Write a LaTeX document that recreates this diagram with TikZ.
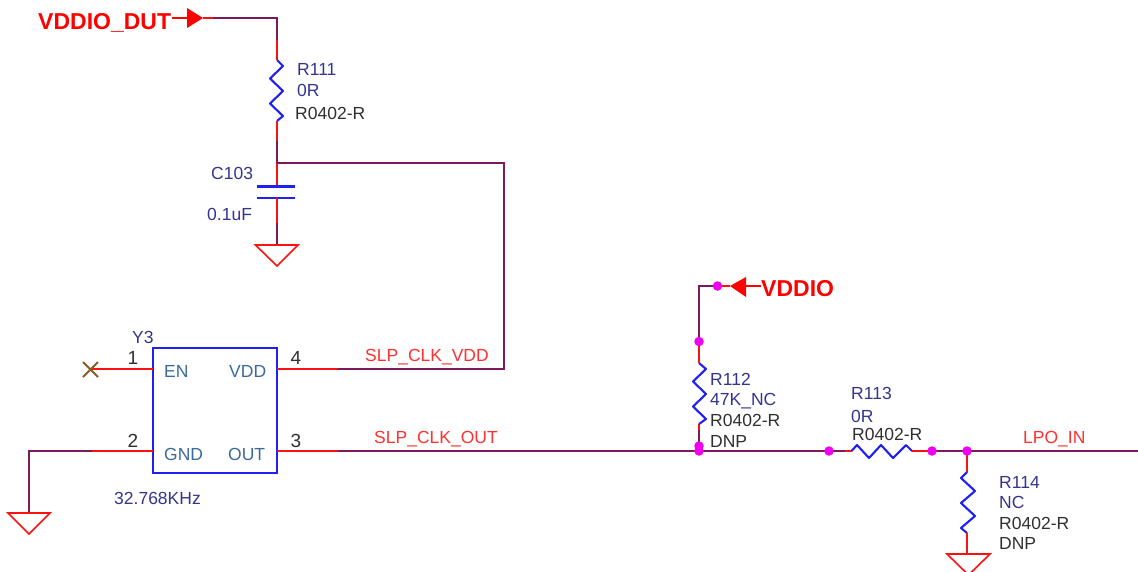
\documentclass[tikz,border=0pt]{standalone}
\usepackage{fontspec}
\setmainfont{Liberation Sans}
\usepackage{tikz}
\definecolor{wirec}{HTML}{7A1A5C}
\definecolor{pinc}{HTML}{FF1010}
\definecolor{partc}{HTML}{2020F5}
\definecolor{refc}{HTML}{35358F}
\definecolor{footc}{HTML}{303030}
\definecolor{namec}{HTML}{3A6A9A}
\definecolor{netc}{HTML}{FF3030}
\definecolor{dotc}{HTML}{F000F0}
\definecolor{xc}{HTML}{8A5A20}
\tikzset{
	lab/.style={anchor=west,inner sep=0pt,text height=13pt,text depth=0pt,font=\fontsize{17.5}{20}\selectfont},
	refl/.style={lab,text=refc},
	footl/.style={lab,text=footc},
	namel/.style={lab,text=namec},
	netl/.style={lab,text=netc},
	pinl/.style={lab,text=footc,anchor=center,font=\fontsize{19}{20}\selectfont},
	flagl/.style={lab,text=red,font=\fontsize{23}{26}\selectfont\bfseries,text height=16.5pt},
	wire/.style={draw=wirec,line width=2.1pt},
	pinw/.style={draw=pinc,line width=2.1pt},
	part/.style={draw=partc,line width=2.1pt,line join=round},
	gndsym/.style={draw=pinc,line width=1.6pt},
	dot/.style={circle,fill=dotc,inner sep=0pt,minimum size=9.5pt}
}
\begin{document}
\begin{tikzpicture}[x=1pt,y=-1pt]
	\clip (0,0) rectangle (1138,571);
	\fill[white] (0,0) rectangle (1138,571);

	% VDDIO_DUT branch
	\node[flagl] (vdut) at (38,21) {VDDIO\_DUT};
	\coordinate (dutend) at (203,18);
	\coordinate (dutmid) at (213,18);
	\coordinate (dutcorner) at (277,18);
	\coordinate (r111top) at (277,40);
	\coordinate (r111a) at (277,60);
	\coordinate (r111b) at (277,121);
	\coordinate (r111c) at (277,141);
	\coordinate (vddj) at (277,163);
	\coordinate (capa) at (277,186.5);
	\coordinate (capb) at (277,198);
	\coordinate (capc) at (277,223);
	\coordinate (gnda) at (277,245);
	\coordinate (vddcorner) at (504,163);
	\coordinate (vddback) at (504,369);
	\coordinate (vddnet) at (338,369);

	\draw[draw=red,line width=1.4pt] (172,18) -- (187,18);
	\fill[red] (187,8) -- (203,18) -- (187,28) -- cycle;
	\draw[pinw] (dutend) -- (dutmid);
	\draw[wire] (dutmid) -- (dutcorner) -- (r111top);
	\draw[pinw] (r111top) -- (r111a);
	\draw[part] (r111a) -- ++(6,6) -- ++(-13,12.5) -- ++(13,12.5) -- ++(-13,12.5) -- ++(13,12.5) -- (r111b);
	\draw[pinw] (r111b) -- (r111c);
	\draw[wire] (r111c) -- (vddj);
	\draw[pinw] (vddj) -- (capa);
	\draw[part] (257,186.5) -- (295,186.5);
	\draw[part] (257,198) -- (295,198);
	\draw[pinw] (capb) -- (capc);
	\draw[wire] (capc) -- (gnda);
	\draw[gndsym] (255.5,245) -- (298,245) -- (277,266) -- cycle;
	\draw[wire] (vddj) -- (vddcorner) -- (vddback) -- (vddnet);

	\node[refl] (r111ref) at (297,69) {R111};
	\node[refl] (r111val) at (297,90) {0R};
	\node[footl] (r111foot) at (295,113) {R0402-R};
	\node[refl] (c103ref) at (211,173) {C103};
	\node[refl] (c103val) at (207,214) {0.1uF};

	% Y3
	\node[draw=partc,line width=2.1pt,minimum width=124pt,minimum height=125pt,inner sep=0pt] (y3) at (215,410.5) {};
	\coordinate (pinen) at (153,369);
	\coordinate (pinvdd) at (277,369);
	\coordinate (pingnd) at (153,451);
	\coordinate (pinout) at (277,451);
	\coordinate (nc) at (90,369);
	\coordinate (gndnet) at (92,451);
	\coordinate (gndcorner) at (29,451);
	\coordinate (gndb) at (29,513);
	\coordinate (outnet) at (338,451);

	\draw[pinw] (nc) -- (pinen);
	\draw[xc,line width=1.9pt] (83,362) -- (98,377);
	\draw[xc,line width=1.9pt] (83,377) -- (98,362);
	\draw[pinw] (pinvdd) -- (vddnet);
	\draw[pinw] (pingnd) -- (gndnet);
	\draw[wire] (gndnet) -- (gndcorner) -- (gndb);
	\draw[gndsym] (8,513) -- (50,513) -- (29,534) -- cycle;
	\draw[pinw] (pinout) -- (outnet);

	\node[refl] (y3ref) at (132,337) {Y3};
	\node[pinl] (p1) at (133,358) {1};
	\node[pinl] (p2) at (133,441) {2};
	\node[pinl] (p4) at (296,358) {4};
	\node[pinl] (p3) at (296,441) {3};
	\node[namel] (nen) at (164,371) {EN};
	\node[namel] (nvdd) at (229,371) {VDD};
	\node[namel] (ngnd) at (164,454) {GND};
	\node[namel] (nout) at (228,454) {OUT};
	\node[refl] (y3val) at (114,498) {32.768KHz};
	\node[netl] (slpvdd) at (365,355) {SLP\_CLK\_VDD};
	\node[netl] (slpout) at (374,437) {SLP\_CLK\_OUT};

	% LPO_IN net
	\coordinate (ja) at (699,451);
	\coordinate (jb) at (699,446);
	\coordinate (r112c) at (699,430);
	\coordinate (r112b) at (699,424);
	\coordinate (r112a) at (699,363);
	\coordinate (r112t) at (699,341.5);
	\coordinate (vcorner) at (699,286);
	\coordinate (vdot) at (717.5,286);
	\coordinate (vtip) at (730,286);
	\coordinate (r113l) at (829,451);
	\coordinate (r113a) at (851.5,451);
	\coordinate (r113b) at (912,451);
	\coordinate (r113r) at (932,451);
	\coordinate (jc) at (967,451);
	\coordinate (r114a) at (967,472);
	\coordinate (r114b) at (967,533);
	\coordinate (gndc) at (967,554);
	\coordinate (netend) at (1138,451);

	\draw[wire] (outnet) -- (r113l);
	\draw[pinw] (845,451) -- (r113a);
	\draw[wire] (r113l) -- (845,451);
	\draw[part] (r113a) -- ++(5.5,-6) -- ++(12,13) -- ++(12,-13) -- ++(12,13) -- ++(13,-13) -- (r113b);
	\draw[pinw] (r113b) -- (r113r);
	\draw[wire] (r113r) -- (netend);

	\draw[wire] (ja) -- (r112c);
	\draw[pinw] (r112c) -- (r112b);
	\draw[part] (r112b) -- ++(7,-5) -- ++(-13,-12.5) -- ++(13,-12.5) -- ++(-13,-12.5) -- ++(13,-12.5) -- (r112a);
	\draw[pinw] (r112a) -- (r112t);
	\draw[wire] (r112t) -- (vcorner) -- (vdot);
	\draw[pinw] (vdot) -- (vtip);
	\fill[red] (730,286) -- (746,277) -- (746,297) -- cycle;
	\draw[draw=red,line width=1.4pt] (746,286) -- (761,286);

	\draw[pinw] (jc) -- (r114a);
	\draw[part] (r114a) -- ++(-6,6) -- ++(14,13) -- ++(-14,12) -- ++(14,13) -- ++(-14,12) -- (r114b);
	\draw[pinw] (r114b) -- (gndc);
	\draw[gndsym] (947,554) -- (990,554) -- (968.5,575) -- cycle;

	\node[dot] (d1) at (vdot) {};
	\node[dot] (d2) at (r112t) {};
	\node[dot] (d3) at (jb) {};
	\node[dot] (d4) at (ja) {};
	\node[dot] (d5) at (r113l) {};
	\node[dot] (d6) at (r113r) {};
	\node[dot] (d7) at (jc) {};

	\node[flagl] (vddio) at (761,288) {VDDIO};
	\node[refl] (r112ref) at (710,379) {R112};
	\node[refl] (r112val) at (710,399) {47K\_NC};
	\node[footl] (r112foot) at (710,420) {R0402-R};
	\node[footl] (r112dnp) at (710,441) {DNP};
	\node[refl] (r113ref) at (851,393) {R113};
	\node[refl] (r113val) at (851,416) {0R};
	\node[footl] (r113foot) at (852,434) {R0402-R};
	\node[netl] (lpo) at (1023,437) {LPO\_IN};
	\node[refl] (r114ref) at (999,482) {R114};
	\node[refl] (r114val) at (999,502) {NC};
	\node[footl] (r114foot) at (999,523) {R0402-R};
	\node[footl] (r114dnp) at (999,543) {DNP};
\end{tikzpicture}
\end{document}
